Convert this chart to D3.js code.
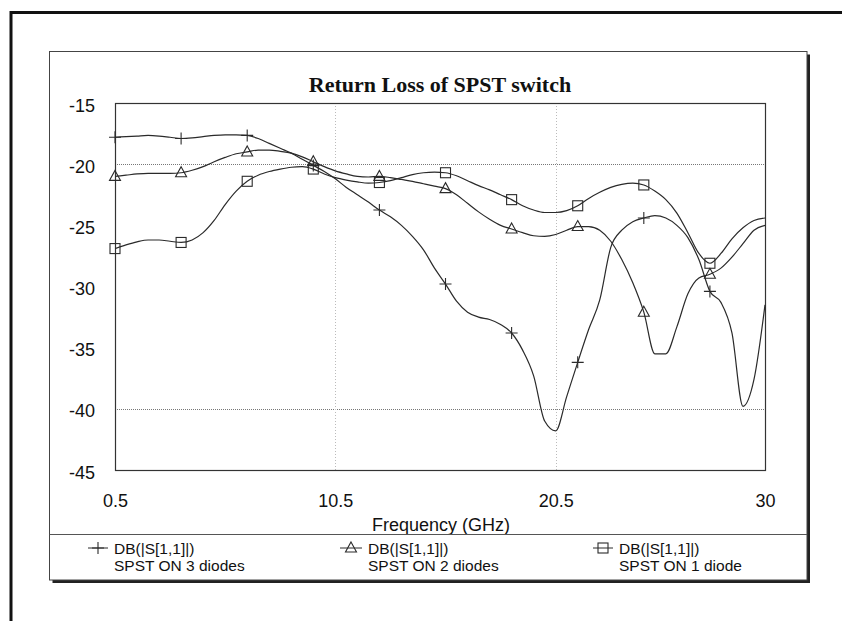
<!DOCTYPE html>
<html>
<head>
<meta charset="utf-8">
<script src="https://cdn.jsdelivr.net/npm/d3@7"></script>
<style>
  html, body { margin: 0; padding: 0; background: #fff; }
  svg { display: block; }
  .tick text { font-family: "Liberation Sans", Arial, sans-serif; }
</style>
</head>
<body>
<svg id="chart" width="842" height="621"></svg>
<script>
// Frequency sweep (GHz), sampled every 0.5 GHz
const freq = [
  0.5, 1.0, 1.5, 2.0, 2.5, 3.0, 3.5, 4.0, 4.5, 5.0,
  5.5, 6.0, 6.5, 7.0, 7.5, 8.0, 8.5, 9.0, 9.5, 10.0,
  10.5, 11.0, 11.5, 12.0, 12.5, 13.0, 13.5, 14.0, 14.5, 15.0,
  15.5, 16.0, 16.5, 17.0, 17.5, 18.0, 18.5, 19.0, 19.5, 20.0,
  20.5, 21.0, 21.5, 22.0, 22.5, 23.0, 23.5, 24.0, 24.5, 25.0,
  25.5, 26.0, 26.5, 27.0, 27.5, 28.0, 28.5, 29.0, 29.5, 30.0
];

// DB(|S[1,1]|) for the three switch variants
const on3Diodes = [
  -17.8, -17.75, -17.7, -17.65, -17.7, -17.8, -17.9, -17.85, -17.75, -17.65,
  -17.6, -17.6, -17.65, -17.9, -18.3, -18.7, -19.1, -19.6, -20.1, -20.6,
  -21.2, -21.9, -22.5, -23.1, -23.75, -24.3, -25.0, -25.9, -27.0, -28.5,
  -29.8, -31.2, -32.1, -32.5, -32.7, -33.1, -33.8, -35.2, -37.3, -41.0,
  -41.8, -39.0, -36.2, -33.5, -31.1, -26.8, -25.4, -24.7, -24.4, -24.2,
  -24.4, -25.0, -26.0, -27.8, -30.4, -31.3, -33.8, -39.8, -37.6, -31.5
];
const on2Diodes = [
  -21.0, -20.9, -20.8, -20.75, -20.75, -20.75, -20.7, -20.5, -20.2, -19.8,
  -19.45, -19.15, -19.0, -18.85, -18.85, -18.95, -19.1, -19.4, -19.8, -20.2,
  -20.55, -20.8, -21.0, -21.05, -21.0, -21.1, -21.25, -21.4, -21.6, -21.8,
  -22.0, -22.5, -23.2, -23.9, -24.5, -25.0, -25.3, -25.6, -25.85, -25.9,
  -25.75, -25.4, -25.1, -25.1, -25.4, -26.3, -27.8, -29.7, -32.1, -35.5,
  -35.5, -33.3, -30.6, -29.3, -29.0, -28.5, -27.6, -26.5, -25.4, -25.0
];
const on1Diode = [
  -26.9, -26.6, -26.35, -26.2, -26.2, -26.3, -26.4, -26.2, -25.6, -24.6,
  -23.3, -22.2, -21.4, -20.9, -20.6, -20.4, -20.25, -20.2, -20.4, -20.8,
  -21.1, -21.3, -21.45, -21.55, -21.5, -21.35, -21.1, -20.85, -20.7, -20.65,
  -20.7, -20.95, -21.35, -21.75, -22.1, -22.5, -22.9, -23.4, -23.75, -23.95,
  -23.95, -23.8, -23.4, -22.8, -22.3, -21.9, -21.65, -21.55, -21.7, -22.2,
  -22.9, -24.0, -25.6, -27.3, -28.1, -27.3, -26.1, -25.2, -24.6, -24.4
];

// Frequencies that carry a symbol on each trace
const markerFreqs = [0.5, 3.5, 6.5, 9.5, 12.5, 15.5, 18.5, 21.5, 24.5, 27.5];

// Axis ticks and gridlines
const xTicks = [0.5, 10.5, 20.5, 30];
const yTicks = [-15, -20, -25, -30, -35, -40, -45];
const xGrid = [10.5, 20.5];
const yGrid = [-20, -40];

const seriesNames = ["SPST ON 3 diodes", "SPST ON 2 diodes", "SPST ON 1 diode"];
const seriesSymbols = ["plus", "triangle", "square"];
const seriesValues = [on3Diodes, on2Diodes, on1Diode];

const ink = "#2a2a2a";
const svg = d3.select("#chart");

// Outer page frame (runs off the right and bottom edges)
svg.append("path")
  .attr("d", "M11,640 V12.5 H860")
  .attr("fill", "none").attr("stroke", "#111").attr("stroke-width", 3);

// Chart panel with drop shadow on right and bottom
const panel = { x0: 49.5, y0: 51.5, x1: 807, y1: 580 };
svg.append("rect")
  .attr("x", panel.x0 + 3).attr("y", panel.y0 + 3)
  .attr("width", panel.x1 - panel.x0).attr("height", panel.y1 - panel.y0)
  .attr("fill", "#222");
svg.append("rect")
  .attr("x", panel.x0).attr("y", panel.y0)
  .attr("width", panel.x1 - panel.x0).attr("height", panel.y1 - panel.y0)
  .attr("fill", "#fff").attr("stroke", "#444").attr("stroke-width", 1);

// Plot area
const plot = { left: 115, top: 103, right: 765, bottom: 470 };
const x = d3.scaleLinear().domain([0.5, 30]).range([plot.left, plot.right]);
const y = d3.scaleLinear().domain([-45, -15]).range([plot.bottom, plot.top]);

// Gridlines
svg.append("g").selectAll("line").data(yGrid).join("line")
  .attr("x1", plot.left).attr("x2", plot.right)
  .attr("y1", d => Math.round(y(d)) + 0.5).attr("y2", d => Math.round(y(d)) + 0.5)
  .attr("stroke", "#777").attr("stroke-width", 1).attr("stroke-dasharray", "1,1");
svg.append("g").selectAll("line").data(xGrid).join("line")
  .attr("y1", plot.top).attr("y2", plot.bottom)
  .attr("x1", d => Math.round(x(d)) + 0.5).attr("x2", d => Math.round(x(d)) + 0.5)
  .attr("stroke", "#bbb").attr("stroke-width", 1).attr("stroke-dasharray", "1,2");

// Plot frame
svg.append("rect")
  .attr("x", plot.left + 0.5).attr("y", plot.top + 0.5)
  .attr("width", plot.right - plot.left).attr("height", plot.bottom - plot.top)
  .attr("fill", "none").attr("stroke", "#333").attr("stroke-width", 1.2);

// Axes: labels only, frame drawn above
const yAxis = svg.append("g")
  .attr("transform", `translate(${plot.left},0)`)
  .call(d3.axisLeft(y).tickValues(yTicks).tickSize(0).tickPadding(20).tickFormat(d => String(d)));
yAxis.select(".domain").remove();
yAxis.selectAll("text")
  .attr("font-size", 18).attr("fill", "#111").attr("dy", "0.45em");

const xAxis = svg.append("g")
  .attr("transform", `translate(0,${plot.bottom})`)
  .call(d3.axisBottom(x).tickValues(xTicks).tickSize(0).tickPadding(24).tickFormat(d => String(d)));
xAxis.select(".domain").remove();
xAxis.selectAll("text")
  .attr("font-size", 18).attr("fill", "#111");

// Title and axis caption
svg.append("text")
  .attr("x", (plot.left + plot.right) / 2).attr("y", 92)
  .attr("text-anchor", "middle")
  .attr("font-family", "'Liberation Serif', 'Times New Roman', serif")
  .attr("font-weight", "bold").attr("font-size", 22).attr("fill", "#111")
  .text("Return Loss of SPST switch");

svg.append("text")
  .attr("x", 441).attr("y", 531)
  .attr("text-anchor", "middle")
  .attr("font-family", "'Liberation Sans', Arial, sans-serif")
  .attr("font-size", 18).attr("fill", "#111")
  .text("Frequency (GHz)");

// Legend separator
svg.append("line")
  .attr("x1", panel.x0).attr("x2", panel.x1)
  .attr("y1", 534.5).attr("y2", 534.5)
  .attr("stroke", "#555").attr("stroke-width", 1);

// Symbol drawing
function drawSymbol(g, kind, cx, cy) {
  if (kind === "plus") {
    g.append("path")
      .attr("d", `M${cx - 6},${cy} H${cx + 6} M${cx},${cy - 6} V${cy + 6}`)
      .attr("fill", "none").attr("stroke", ink).attr("stroke-width", 1.1);
  } else if (kind === "triangle") {
    g.append("path")
      .attr("d", `M${cx},${cy - 6} L${cx + 5.5},${cy + 4} L${cx - 5.5},${cy + 4} Z`)
      .attr("fill", "none").attr("stroke", ink).attr("stroke-width", 1.1);
  } else {
    g.append("rect")
      .attr("x", cx - 5).attr("y", cy - 5).attr("width", 10).attr("height", 10)
      .attr("fill", "none").attr("stroke", ink).attr("stroke-width", 1.1);
  }
}

// Traces
const line = d3.line()
  .x(d => x(d[0])).y(d => y(d[1]))
  .curve(d3.curveMonotoneX);

svg.append("clipPath").attr("id", "plotClip")
  .append("rect")
  .attr("x", plot.left).attr("y", plot.top)
  .attr("width", plot.right - plot.left + 1).attr("height", plot.bottom - plot.top);

seriesValues.forEach((vals, i) => {
  const pts = freq.map((f, k) => [f, vals[k]]);
  const g = svg.append("g").attr("clip-path", "url(#plotClip)");
  g.append("path")
    .attr("d", line(pts))
    .attr("fill", "none").attr("stroke", ink).attr("stroke-width", 1.2);
  const mg = svg.append("g");
  markerFreqs.forEach(f => {
    const k = freq.indexOf(f);
    drawSymbol(mg, seriesSymbols[i], x(f), y(vals[k]));
  });
});

// Legend entries
const legendX = [88, 340, 593];
const legendTextX = [114, 368, 619];
seriesNames.forEach((name, i) => {
  const g = svg.append("g");
  const cy = 548;
  const x0 = legendX[i], x1 = legendTextX[i] - 6;
  g.append("line")
    .attr("x1", x0).attr("x2", x1).attr("y1", cy).attr("y2", cy)
    .attr("stroke", ink).attr("stroke-width", 1);
  drawSymbol(g, seriesSymbols[i], (x0 + x1) / 2, cy);
  g.append("text")
    .attr("x", legendTextX[i]).attr("y", 553.5)
    .attr("font-family", "'Liberation Sans', Arial, sans-serif")
    .attr("font-size", 15.5).attr("fill", "#111")
    .text("DB(|S[1,1]|)");
  g.append("text")
    .attr("x", legendTextX[i]).attr("y", 571)
    .attr("font-family", "'Liberation Sans', Arial, sans-serif")
    .attr("font-size", 15.5).attr("fill", "#111")
    .text(name);
});
</script>
</body>
</html>
